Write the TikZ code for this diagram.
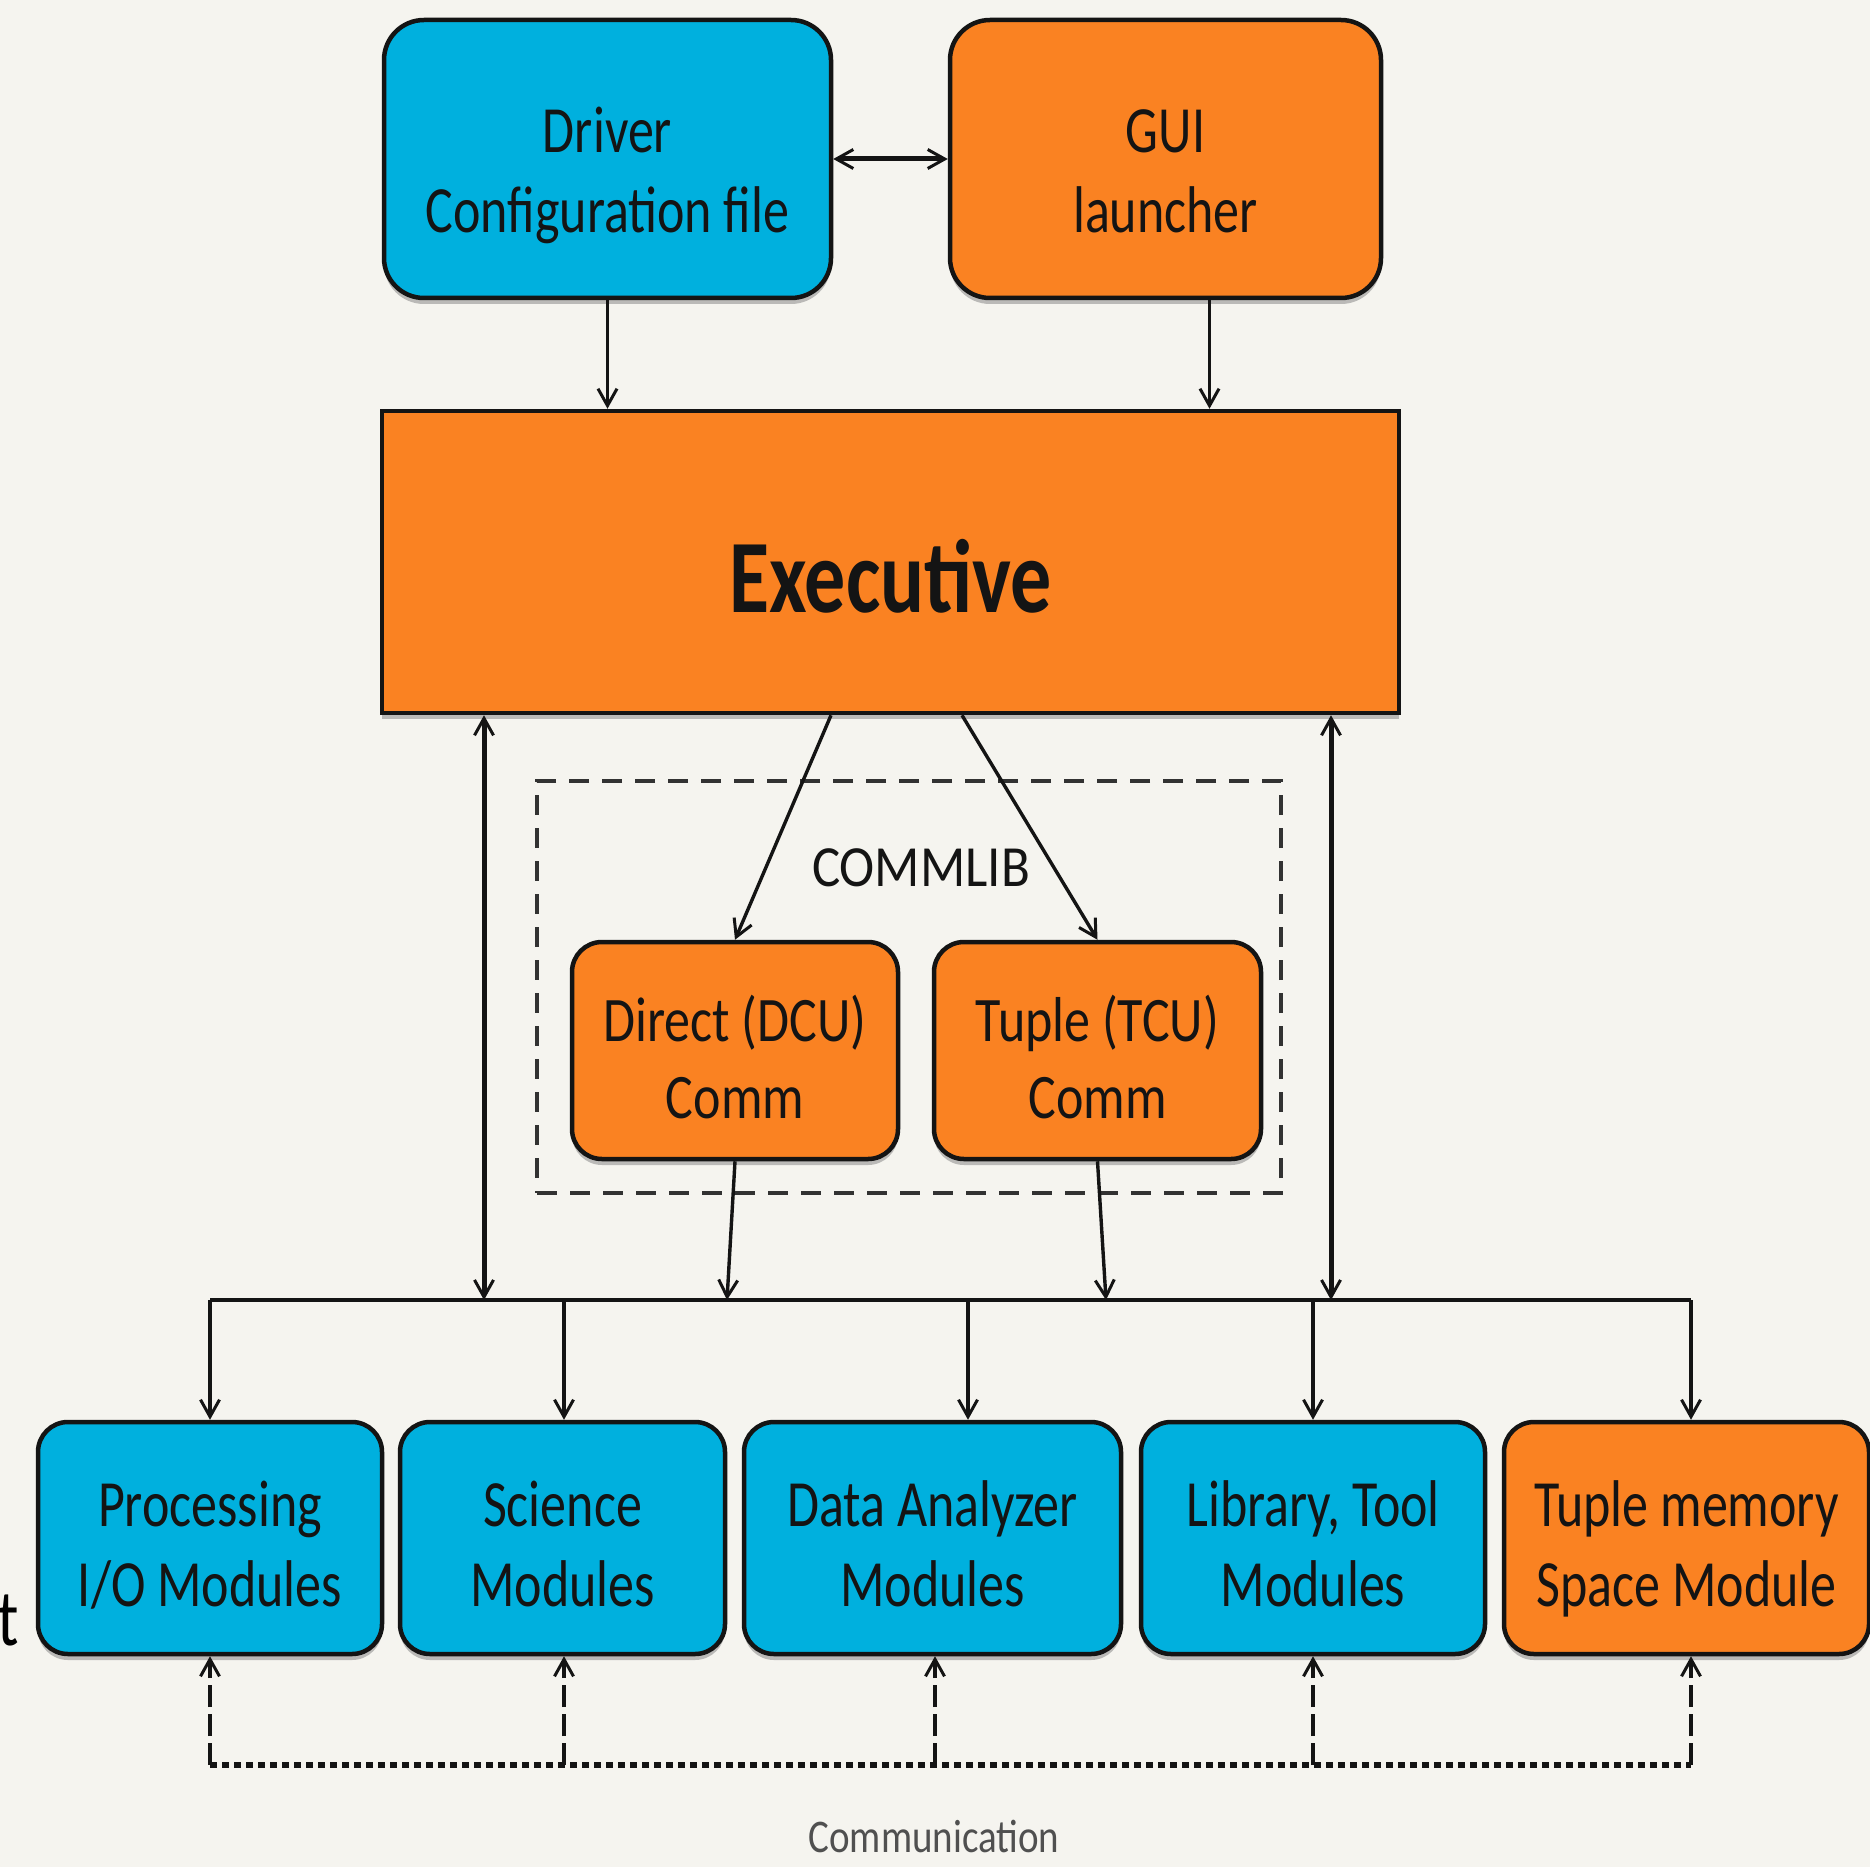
\documentclass[tikz,border=0pt]{standalone}
\usepackage{fontspec}
\setmainfont{Carlito}
\usepackage{graphicx}
\usetikzlibrary{arrows.meta,shadows,calc}

\definecolor{paper}{RGB}{245,244,239}
\definecolor{skyfill}{RGB}{0,176,222}
\definecolor{amber}{RGB}{250,130,34}
\definecolor{ink}{RGB}{20,20,20}
\definecolor{dashink}{RGB}{50,50,50}
\definecolor{softgray}{RGB}{80,80,80}

% two-line box caption, stretched vertically; #2 is the height of the
% first-row strut, which pushes the lettering a little below the centre
\newcommand\bxt[3][1.27]{\scalebox{1}[#1]{\begin{tabular}{@{}c@{}}\rule{0pt}{#2}#3\end{tabular}}}

\begin{document}
\begin{tikzpicture}[x=1pt,y=-1pt,
  >={Straight Barb[length=17pt,width=19pt,line width=3pt]},
  boxbase/.style={draw=ink, line width=4.5pt, rounded corners=30pt, inner sep=0pt,
    font=\fontsize{52}{63}\selectfont, text=ink,
    drop shadow={shadow xshift=0pt, shadow yshift=-6pt, opacity=0.5}},
  blubox/.style={boxbase, fill=skyfill},
  orbox/.style={boxbase, fill=amber},
  link/.style={draw=ink, line width=3.4pt, ->},
  bilink/.style={draw=ink, line width=5pt, <->},
  wire/.style={draw=ink, line width=4pt},
  uplink/.style={draw=ink, line width=3.2pt, dash pattern=on 22pt off 7pt, ->},
  combus/.style={draw=ink, line width=6pt, dash pattern=on 7pt off 5pt},
]
\useasboundingbox (0,0) rectangle (1870,1867);
\fill[paper] (0,0) rectangle (1870,1867);
\clip (0,0) rectangle (1870,1867);

% fragment of lettering at the left margin
\node[anchor=base east, inner sep=0pt, font=\fontsize{64}{64}\selectfont, text=black] (tfrag) at (19,1645) {\scalebox{1}[1.25]{t}};

% top row
\node[blubox, rounded corners=40pt, minimum width=447pt, minimum height=278pt] (drv) at (607.5,159) {\bxt{72pt}{Driver\\Configuration file}};
\node[orbox, rounded corners=40pt, minimum width=431pt, minimum height=278pt] (gui) at (1165.5,159) {\bxt{72pt}{GUI\\launcher}};

% executive
\node[draw=ink, line width=4.5pt, fill=amber, inner sep=0pt, minimum width=1017pt, minimum height=302pt,
  font=\fontsize{82}{82}\selectfont\bfseries, text=ink,
  drop shadow={shadow xshift=0pt, shadow yshift=-6pt, opacity=0.5}] (exe) at (890.5,562) {\scalebox{1}[1.27]{\rule{0pt}{80pt}Executive}};

% communication library
\node[draw=dashink, line width=4.5pt, dash pattern=on 20pt off 13pt, minimum width=744pt, minimum height=412pt, inner sep=0pt] (commlib) at (909,987) {};
\node[font=\fontsize{53}{53}\selectfont, text=ink, inner sep=0pt] (commlbl) at (921,868) {\scalebox{1}[1.1]{COMMLIB}};
\node[orbox, minimum width=326pt, minimum height=217pt] (dcu) at (735,1050.5) {\bxt[1.22]{67pt}{Direct (DCU)\\Comm}};
\node[orbox, minimum width=327pt, minimum height=217pt] (tcu) at (1097.5,1050.5) {\bxt[1.22]{67pt}{Tuple (TCU)\\Comm}};

% module row
\node[blubox, minimum width=344pt, minimum height=232pt] (m1) at (210,1538) {\bxt{64pt}{Processing\\I/O Modules}};
\node[blubox, minimum width=325pt, minimum height=232pt] (m2) at (562.5,1538) {\bxt{64pt}{Science\\Modules}};
\node[blubox, minimum width=377pt, minimum height=232pt] (m3) at (932.5,1538) {\bxt{64pt}{Data Analyzer\\Modules}};
\node[blubox, minimum width=344pt, minimum height=232pt] (m4) at (1313,1538) {\bxt{64pt}{Library, Tool\\Modules}};
\node[orbox, minimum width=365pt, minimum height=232pt] (m5) at (1686.5,1538) {\bxt{64pt}{Tuple memory\\Space Module}};

\node[font=\fontsize{39}{39}\selectfont, text=softgray, inner sep=0pt] (commtxt) at (934,1836) {\scalebox{1}[1.2]{Communication}};

% bus coordinates
\coordinate (busL) at (210,1300);
\coordinate (busR) at (1691,1300);
\coordinate (dcuIn) at (727,1300);
\coordinate (tcuIn) at (1106,1300);
\coordinate (cmL) at (210,1765);
\coordinate (cmR) at (1691,1765);

% top connectors
\draw[bilink] (drv.east) -- (gui.west);
\draw[link] (drv.south) -- (drv.south |- exe.north);
\draw[link] ([xshift=44pt]gui.south) -- ([xshift=44pt]gui.south |- exe.north);

% executive to communication units
\draw[link] ([xshift=-59.5pt]exe.south) -- (dcu.north);
\draw[link] ([xshift=71.5pt]exe.south) -- (tcu.north);
\draw[link] (dcu.south) -- (dcuIn);
\draw[link] (tcu.south) -- (tcuIn);

% executive to bus, both ways
\draw[bilink] ([xshift=-406.5pt]exe.south) -- ([xshift=-406.5pt]exe.south |- busL);
\draw[bilink] ([xshift=440.5pt]exe.south) -- ([xshift=440.5pt]exe.south |- busL);

% bus and drops to modules
\draw[wire] (busL) -- (busR);
\draw[link] (busL) -- (m1.north);
\draw[link] ([xshift=1.5pt]m2.north |- busL) -- ([xshift=1.5pt]m2.north);
\draw[link] ([xshift=35.5pt]m3.north |- busL) -- ([xshift=35.5pt]m3.north);
\draw[link] (m4.north |- busL) -- (m4.north);
\draw[link] (busR) -- (busR |- m5.north);

% communication bus below the modules
\draw[combus] (cmL) -- (cmR);
\draw[uplink] (cmL) -- (m1.south);
\draw[uplink] ([xshift=1.5pt]m2.south |- cmL) -- ([xshift=1.5pt]m2.south);
\draw[uplink] ([xshift=2.5pt]m3.south |- cmL) -- ([xshift=2.5pt]m3.south);
\draw[uplink] (m4.south |- cmL) -- (m4.south);
\draw[uplink] (cmR) -- (cmR |- m5.south);
\end{tikzpicture}
\end{document}
